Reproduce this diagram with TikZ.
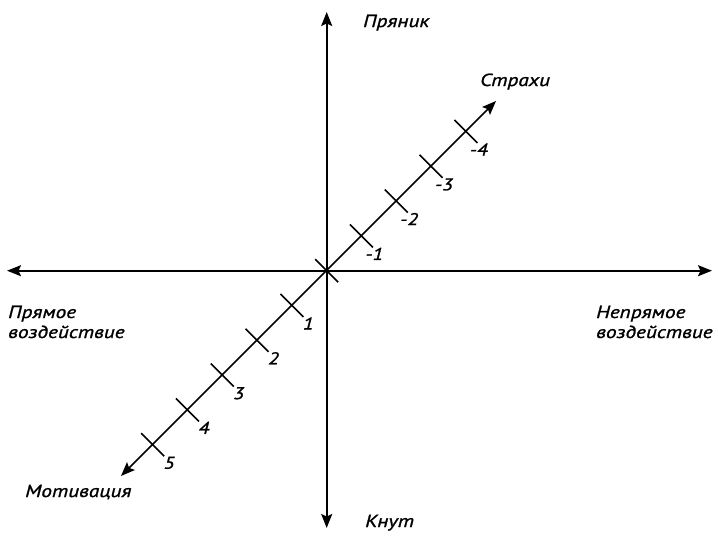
\documentclass[tikz,border=0pt]{standalone}
\usepackage{fontspec}
\setmainfont{PT Sans}
\newfontfamily\lblfont[FakeStretch=1.22,FakeBold=1.2]{PT Sans}
\usetikzlibrary{arrows.meta,calc}
\begin{document}
\begin{tikzpicture}[x=1pt,y=-1pt,
  >={Stealth[length=14pt,width=11pt,inset=2.5pt]},
  axis/.style={line width=1.9pt,<->},
  diag/.style={line width=1.6pt,<->},
  tickmark/.style={line width=1.6pt},
  lbl/.style={font=\lblfont\itshape\fontsize{17.5}{20}\selectfont,inner sep=0pt,anchor=base west},
  num/.style={font=\lblfont\itshape\fontsize{17}{18}\selectfont,inner sep=0pt,anchor=base east}]
\useasboundingbox (0,0) rectangle (718,544);
\coordinate (o) at (326.7,270.7);
\coordinate (top) at (326.7,12);
\coordinate (bot) at (326.7,528);
\coordinate (left) at (7,270.7);
\coordinate (right) at (712,270.7);
\coordinate (dhi) at (496,101);
\coordinate (dlo) at (121,476);
\draw[axis] (bot) -- (top);
\draw[axis] (left) -- (right);
\draw[diag] (dlo) -- (dhi);
\foreach \i in {-4,...,5}{
  \coordinate (t\i) at ($(o)+(-34.8*\i,34.8*\i)$);
  \draw[tickmark] ($(t\i)+(-11.5,-11.5)$) -- ($(t\i)+(11.5,11.5)$);
}
\foreach \i in {-4,...,-1,1,2,...,5}{
  \node[num] (n\i) at ($(t\i)+(22,24)$) {\i};
}
\node[lbl] (pryanik) at (363,27) {Пряник};
\node[lbl] (strahi) at (480,86) {Страхи};
\node[lbl] (pryamoe1) at (8,318) {Прямое};
\node[lbl] (pryamoe2) at (8,338) {воздействие};
\node[lbl] (nepryamoe1) at (596,318) {Непрямое};
\node[lbl] (nepryamoe2) at (596,338) {воздействие};
\node[lbl] (motiv) at (25,497) {Мотивация};
\node[lbl] (knut) at (365,527) {Кнут};
\end{tikzpicture}
\end{document}
